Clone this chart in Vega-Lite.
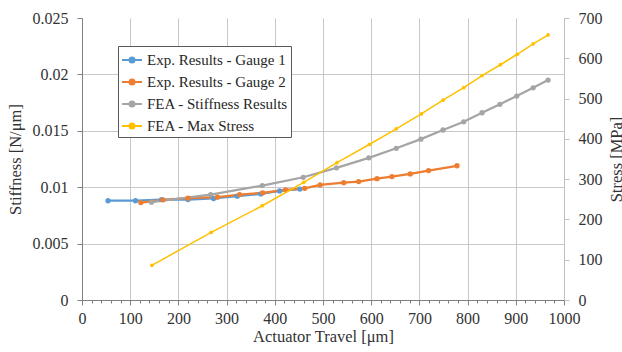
{
  "$schema": "https://vega.github.io/schema/vega-lite/v6.json",
  "width": 482,
  "height": 282,
  "autosize": {"type": "none"},
  "padding": {"left": 82, "top": 18, "right": 58, "bottom": 52},
  "background": "white",
  "config": {
    "view": {"stroke": null},
    "axis": {
      "labelFont": "Times New Roman",
      "titleFont": "Times New Roman",
      "labelFontSize": 16,
      "titleFontSize": 16.5,
      "titleFontWeight": "normal",
      "labelColor": "#333333",
      "titleColor": "#333333",
      "domainColor": "#808080",
      "tickColor": "#808080",
      "gridColor": "#C8C8C8",
      "gridWidth": 1
    }
  },
  "datasets": {
    "stiff": [
      {"series": "Exp. Results - Gauge 1", "travel": 54, "stiffness": 0.0088},
      {"series": "Exp. Results - Gauge 1", "travel": 111, "stiffness": 0.0088},
      {"series": "Exp. Results - Gauge 1", "travel": 165, "stiffness": 0.0089},
      {"series": "Exp. Results - Gauge 1", "travel": 220, "stiffness": 0.0089},
      {"series": "Exp. Results - Gauge 1", "travel": 273, "stiffness": 0.009},
      {"series": "Exp. Results - Gauge 1", "travel": 322, "stiffness": 0.0092},
      {"series": "Exp. Results - Gauge 1", "travel": 371, "stiffness": 0.0094},
      {"series": "Exp. Results - Gauge 1", "travel": 410, "stiffness": 0.00967},
      {"series": "Exp. Results - Gauge 1", "travel": 452, "stiffness": 0.00983},
      {"series": "Exp. Results - Gauge 2", "travel": 122, "stiffness": 0.00864},
      {"series": "Exp. Results - Gauge 2", "travel": 168, "stiffness": 0.00888},
      {"series": "Exp. Results - Gauge 2", "travel": 220, "stiffness": 0.00903},
      {"series": "Exp. Results - Gauge 2", "travel": 281, "stiffness": 0.00912},
      {"series": "Exp. Results - Gauge 2", "travel": 327, "stiffness": 0.00935},
      {"series": "Exp. Results - Gauge 2", "travel": 375, "stiffness": 0.0095},
      {"series": "Exp. Results - Gauge 2", "travel": 422, "stiffness": 0.00976},
      {"series": "Exp. Results - Gauge 2", "travel": 462, "stiffness": 0.0099},
      {"series": "Exp. Results - Gauge 2", "travel": 494, "stiffness": 0.0102},
      {"series": "Exp. Results - Gauge 2", "travel": 543, "stiffness": 0.0104},
      {"series": "Exp. Results - Gauge 2", "travel": 574, "stiffness": 0.0105},
      {"series": "Exp. Results - Gauge 2", "travel": 612, "stiffness": 0.01076},
      {"series": "Exp. Results - Gauge 2", "travel": 643, "stiffness": 0.01094},
      {"series": "Exp. Results - Gauge 2", "travel": 681, "stiffness": 0.01118},
      {"series": "Exp. Results - Gauge 2", "travel": 719, "stiffness": 0.01147},
      {"series": "Exp. Results - Gauge 2", "travel": 778, "stiffness": 0.0119},
      {"series": "FEA - Stiffness Results", "travel": 144, "stiffness": 0.00867},
      {"series": "FEA - Stiffness Results", "travel": 267, "stiffness": 0.00935},
      {"series": "FEA - Stiffness Results", "travel": 374, "stiffness": 0.01014},
      {"series": "FEA - Stiffness Results", "travel": 459, "stiffness": 0.01088},
      {"series": "FEA - Stiffness Results", "travel": 528, "stiffness": 0.01172},
      {"series": "FEA - Stiffness Results", "travel": 595, "stiffness": 0.0126},
      {"series": "FEA - Stiffness Results", "travel": 652, "stiffness": 0.01345},
      {"series": "FEA - Stiffness Results", "travel": 703, "stiffness": 0.01426},
      {"series": "FEA - Stiffness Results", "travel": 749, "stiffness": 0.01507},
      {"series": "FEA - Stiffness Results", "travel": 792, "stiffness": 0.0158},
      {"series": "FEA - Stiffness Results", "travel": 830, "stiffness": 0.0166},
      {"series": "FEA - Stiffness Results", "travel": 867, "stiffness": 0.01735},
      {"series": "FEA - Stiffness Results", "travel": 902, "stiffness": 0.01808},
      {"series": "FEA - Stiffness Results", "travel": 936, "stiffness": 0.01881},
      {"series": "FEA - Stiffness Results", "travel": 967, "stiffness": 0.0195}
    ],
    "stress": [
      {"series": "FEA - Max Stress", "travel": 145, "stress": 86},
      {"series": "FEA - Max Stress", "travel": 268, "stress": 168},
      {"series": "FEA - Max Stress", "travel": 374, "stress": 234},
      {"series": "FEA - Max Stress", "travel": 460, "stress": 292},
      {"series": "FEA - Max Stress", "travel": 529, "stress": 341},
      {"series": "FEA - Max Stress", "travel": 596, "stress": 386},
      {"series": "FEA - Max Stress", "travel": 652, "stress": 425},
      {"series": "FEA - Max Stress", "travel": 704, "stress": 462},
      {"series": "FEA - Max Stress", "travel": 749, "stress": 496},
      {"series": "FEA - Max Stress", "travel": 792, "stress": 527},
      {"series": "FEA - Max Stress", "travel": 830, "stress": 557},
      {"series": "FEA - Max Stress", "travel": 868, "stress": 584},
      {"series": "FEA - Max Stress", "travel": 903, "stress": 610},
      {"series": "FEA - Max Stress", "travel": 936, "stress": 636},
      {"series": "FEA - Max Stress", "travel": 967, "stress": 658}
    ]
  },
  "layer": [
    {
      "data": {"name": "stiff"},
      "mark": {"type": "line", "strokeWidth": 2.25, "point": {"filled": true, "size": 28}},
      "encoding": {
        "x": {
          "field": "travel", "type": "quantitative",
          "scale": {"domain": [0, 1000], "nice": false},
          "axis": {
            "title": "Actuator Travel [μm]",
            "tickCount": 100,
            "values": [0, 20, 40, 60, 80, 100, 120, 140, 160, 180, 200, 220, 240, 260, 280, 300, 320, 340, 360, 380, 400, 420, 440, 460, 480, 500, 520, 540, 560, 580, 600, 620, 640, 660, 680, 700, 720, 740, 760, 780, 800, 820, 840, 860, 880, 900, 920, 940, 960, 980, 1000],
            "format": "d",
            "labelOverlap": false,
            "labelFlush": false,
            "grid": true,
            "gridOpacity": {"condition": {"test": "datum.value % 100 != 0", "value": 0}, "value": 1},
            "labelOpacity": {"condition": {"test": "datum.value % 100 != 0", "value": 0}, "value": 1},
            "tickSize": {"condition": {"test": "datum.value % 100 != 0", "value": 3}, "value": 5},
            "labelPadding": 5, "titlePadding": 2
          }
        },
        "y": {
          "field": "stiffness", "type": "quantitative",
          "scale": {"domain": [0, 0.025], "nice": false},
          "axis": {
            "orient": "left",
            "title": "Stiffness [N/μm]",
            "values": [0, 0.005, 0.01, 0.015, 0.02, 0.025],
            "format": "~g",
            "grid": true,
            "gridOpacity": {"condition": {"test": "datum.value > 0.0249", "value": 0}, "value": 1},
            "tickSize": 5, "labelPadding": 9, "titlePadding": 9
          }
        },
        "color": {
          "field": "series", "type": "nominal",
          "scale": {
            "domain": ["Exp. Results - Gauge 1", "Exp. Results - Gauge 2", "FEA - Stiffness Results", "FEA - Max Stress"],
            "range": ["#5B9BD5", "#ED7D31", "#A5A5A5", "#FFC000"]
          },
          "legend": {
            "orient": "none",
            "legendX": 36,
            "legendY": 28,
            "title": null,
            "strokeColor": "#595959",
            "fillColor": "white",
            "padding": 3,
            "symbolType": "M-1,0H1M0.25,0A0.25,0.25,0,1,1,-0.25,0A0.25,0.25,0,1,1,0.25,0Z",
            "symbolSize": 400,
            "symbolStrokeWidth": 2,
            "labelFont": "Times New Roman",
            "labelFontSize": 15,
            "labelColor": "#262626",
            "labelOffset": 4,
            "rowPadding": 3,
            "labelLimit": 400,
            "encode": {"symbols": {"update": {"fill": {"scale": "color", "field": "value"}, "fillOpacity": {"value": 1}}}}
          }
        }
      }
    },
    {
      "data": {"name": "stress"},
      "mark": {"type": "line", "strokeWidth": 1.5, "point": {"filled": true, "size": 14}},
      "encoding": {
        "x": {
          "field": "travel", "type": "quantitative",
          "scale": {"domain": [0, 1000], "nice": false}
        },
        "y": {
          "field": "stress", "type": "quantitative",
          "scale": {"domain": [0, 700], "nice": false},
          "axis": {
            "orient": "right",
            "title": "Stress [MPa]",
            "titleAngle": 270,
            "values": [0, 100, 200, 300, 400, 500, 600, 700],
            "grid": false,
            "domainColor": "#BFBFBF", "tickColor": "#BFBFBF",
            "tickSize": 5, "labelPadding": 9, "titlePadding": 22
          }
        },
        "color": {"field": "series", "type": "nominal"}
      }
    }
  ],
  "resolve": {"scale": {"y": "independent"}}
}
